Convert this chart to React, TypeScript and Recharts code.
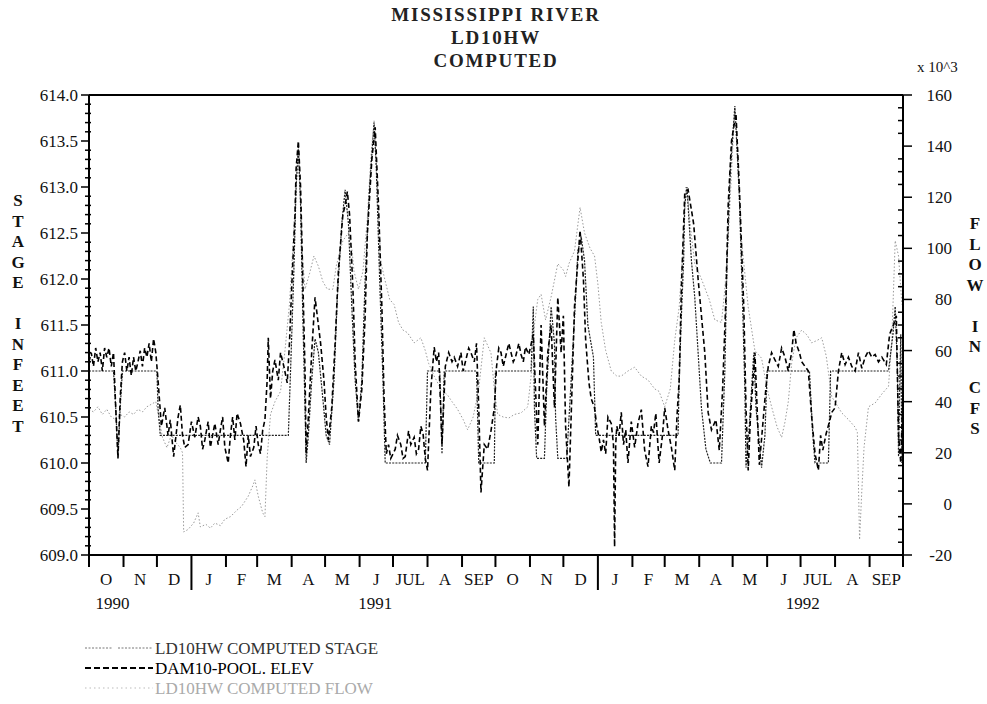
import React from "react";
import { LineChart, Line, XAxis, YAxis, ReferenceLine } from "recharts";

const SERIF = '"Liberation Serif", "Times New Roman", serif';

// ─── Data (x = days since 1 Oct 1990) ───────────────────────────────

const monthStarts = [0, 31, 61, 92, 123, 151, 182, 212, 243, 273, 304, 335, 365, 396, 426, 457, 488, 517, 548, 578, 609, 639, 670, 701, 731];
const monthLabels = ["O", "N", "D", "J", "F", "M", "A", "M", "J", "JUL", "A", "SEP", "O", "N", "D", "J", "F", "M", "A", "M", "J", "JUL", "A", "SEP"];
const yearStarts = [92, 457];
const yearLabels = ["1990", "1991", "1992"];
const yearLabelDays = [21, 257, 641];

// LD10HW COMPUTED STAGE (ft)
const stageDays = [0, 22, 24, 26, 28, 30, 61, 62, 64, 179, 181, 184, 186, 188, 190, 192, 194, 195, 197, 200, 203, 206, 210, 213, 216, 220, 223, 227, 230, 233, 236, 239, 242, 245, 248, 252, 256, 258, 261, 264, 266, 302, 304, 315, 317, 319, 348, 350, 364, 365, 397, 399, 400, 402, 409, 411, 415, 418, 419, 421, 429, 433, 437, 439, 442, 445, 448, 453, 455, 529, 530, 532, 534, 535, 537, 539, 541, 544, 547, 550, 554, 558, 568, 571, 573, 576, 580, 582, 584, 587, 589, 590, 593, 597, 599, 604, 607, 609, 647, 650, 652, 664, 666, 718, 722, 724, 726, 727, 728, 729, 730, 731];
const stageValues = [611.0, 611.0, 610.6, 610.07, 610.6, 611.0, 611.0, 610.6, 610.3, 610.3, 611.0, 612.1, 613.0, 613.45, 612.8, 611.6, 610.6, 610.0, 610.3, 610.9, 611.35, 611.2, 610.7, 610.3, 610.2, 610.9, 611.8, 612.6, 612.97, 612.6, 611.7, 610.9, 610.45, 610.9, 612.0, 613.0, 613.7, 613.2, 612.0, 610.9, 610.0, 610.0, 611.0, 611.0, 610.1, 611.0, 611.0, 610.0, 610.0, 611.0, 611.0, 611.7, 610.6, 610.05, 610.05, 610.8, 611.7, 611.3, 610.5, 610.05, 610.05, 610.9, 611.8, 612.3, 612.46, 612.2, 611.5, 611.15, 610.3, 610.3, 610.9, 611.6, 612.2, 612.8, 613.0, 612.6, 612.2, 611.8, 611.2, 610.6, 610.15, 610.0, 610.0, 611.0, 612.2, 613.2, 613.88, 613.4, 612.9, 611.7, 610.8, 609.95, 610.4, 611.2, 610.6, 609.95, 610.3, 611.0, 611.0, 610.3, 610.0, 610.0, 611.0, 611.0, 611.4, 611.7, 611.0, 610.07, 610.8, 611.4, 610.0, 610.6];

// DAM10-POOL ELEV (ft)
const poolDays = [0, 2, 4, 6, 8, 10, 12, 14, 16, 18, 20, 22, 24, 26, 28, 30, 32, 34, 36, 38, 40, 42, 44, 46, 48, 50, 52, 54, 56, 58, 60, 62, 65, 68, 71, 73, 76, 80, 82, 84, 86, 89, 92, 95, 98, 100, 102, 104, 107, 109, 111, 113, 116, 118, 120, 122, 125, 127, 129, 131, 133, 136, 139, 141, 143, 145, 148, 150, 152, 154, 156, 158, 160, 161, 163, 165, 167, 170, 172, 175, 178, 180, 182, 185, 186, 188, 190, 192, 194, 195, 197, 200, 202, 203, 205, 208, 211, 213, 215, 218, 221, 224, 228, 230, 232, 234, 237, 239, 242, 245, 248, 250, 254, 257, 260, 263, 265, 267, 269, 271, 273, 275, 277, 280, 282, 284, 287, 289, 292, 294, 296, 298, 300, 302, 304, 307, 310, 312, 314, 317, 320, 323, 326, 328, 331, 334, 336, 338, 341, 343, 346, 348, 350, 352, 355, 358, 361, 364, 366, 368, 370, 372, 374, 377, 379, 381, 383, 386, 388, 390, 392, 395, 399, 401, 403, 406, 409, 412, 415, 418, 421, 424, 426, 428, 431, 434, 436, 439, 441, 444, 446, 449, 451, 454, 456, 458, 460, 462, 464, 466, 469, 471, 472, 473, 474, 476, 478, 480, 482, 484, 487, 490, 493, 496, 499, 502, 505, 507, 509, 512, 515, 517, 520, 523, 526, 528, 530, 532, 535, 538, 541, 543, 545, 547, 550, 553, 556, 559, 563, 566, 569, 572, 574, 577, 581, 584, 588, 590, 592, 594, 598, 599, 602, 606, 608, 610, 613, 616, 619, 622, 625, 628, 631, 633, 635, 638, 640, 643, 646, 649, 652, 655, 657, 659, 662, 665, 667, 670, 673, 676, 679, 682, 685, 688, 691, 694, 697, 700, 703, 706, 709, 712, 716, 719, 723, 725, 727, 729, 731];
const poolValues = [611.1, 611.2, 611.05, 611.25, 611.1, 611.2, 611.0, 611.25, 611.15, 611.25, 611.05, 611.2, 610.6, 610.05, 610.7, 611.1, 611.2, 611.0, 611.15, 610.95, 611.15, 611.0, 611.1, 611.22, 611.05, 611.25, 611.15, 611.3, 611.1, 611.35, 611.2, 610.9, 610.4, 610.6, 610.3, 610.47, 610.07, 610.5, 610.63, 610.3, 610.17, 610.2, 610.45, 610.28, 610.5, 610.4, 610.15, 610.25, 610.45, 610.17, 610.3, 610.43, 610.2, 610.36, 610.5, 610.17, 610.0, 610.3, 610.5, 610.25, 610.54, 610.43, 610.24, 609.96, 610.3, 610.07, 610.17, 610.4, 610.2, 610.1, 610.36, 610.47, 610.9, 611.36, 610.7, 611.0, 611.12, 610.9, 611.2, 611.05, 610.87, 611.3, 611.9, 612.7, 613.2, 613.5, 613.0, 612.0, 611.0, 610.1, 610.5, 611.2, 611.6, 611.8, 611.6, 611.3, 610.9, 610.5, 610.25, 610.6, 611.3, 612.1, 612.7, 612.8, 612.95, 612.7, 611.9, 611.1, 610.45, 610.8, 611.6, 612.5, 613.3, 613.65, 612.8, 611.7, 610.7, 610.1, 610.2, 610.05, 610.1, 610.15, 610.3, 610.2, 610.05, 610.07, 610.35, 610.2, 610.28, 610.1, 610.15, 610.4, 610.32, 610.05, 609.92, 610.8, 611.26, 611.1, 611.2, 610.2, 611.05, 611.2, 611.1, 611.15, 611.05, 611.2, 611.0, 611.1, 611.25, 611.2, 611.1, 611.3, 610.6, 609.68, 610.2, 610.15, 610.35, 610.6, 611.05, 611.25, 611.2, 611.05, 611.15, 611.3, 611.2, 611.1, 611.15, 611.3, 611.18, 611.1, 611.26, 611.18, 611.4, 610.8, 610.2, 611.5, 610.4, 611.2, 611.5, 610.6, 611.8, 611.2, 611.6, 610.4, 609.74, 610.9, 611.7, 612.2, 612.53, 612.0, 611.34, 610.87, 610.7, 610.6, 610.4, 610.28, 610.12, 610.25, 610.1, 610.5, 610.43, 610.2, 609.09, 610.2, 610.4, 610.3, 610.55, 610.2, 610.36, 610.0, 610.45, 610.17, 610.43, 610.58, 610.14, 609.96, 610.4, 610.33, 610.54, 610.0, 610.3, 610.6, 610.36, 610.17, 609.92, 610.5, 610.9, 611.9, 612.93, 612.97, 612.75, 612.6, 612.3, 612.0, 611.6, 611.2, 610.55, 610.36, 610.47, 610.14, 610.8, 611.8, 612.8, 613.5, 613.8, 613.0, 611.7, 610.6, 609.92, 610.5, 611.2, 610.9, 609.98, 610.55, 610.83, 611.05, 611.2, 611.12, 611.05, 611.25, 611.15, 611.0, 611.2, 611.45, 611.3, 611.2, 611.1, 611.05, 611.0, 610.5, 610.1, 609.92, 610.3, 610.14, 610.32, 610.45, 610.55, 610.6, 611.0, 611.2, 611.07, 611.15, 611.05, 611.0, 611.2, 611.03, 611.15, 611.22, 611.15, 611.18, 611.1, 611.15, 611.07, 611.4, 611.52, 611.6, 610.3, 610.0, 610.8];

// LD10HW COMPUTED FLOW (cfs x 10^3)
const flowDays = [0, 4, 8, 12, 16, 20, 24, 28, 32, 36, 40, 44, 48, 52, 56, 60, 63, 66, 70, 74, 78, 82, 84, 85, 89, 94, 98, 100, 105, 109, 113, 118, 122, 127, 133, 137, 143, 147, 149, 152, 156, 158, 160, 163, 167, 172, 176, 180, 183, 186, 188, 190, 192, 194, 198, 202, 206, 210, 214, 219, 222, 228, 233, 236, 238, 242, 246, 250, 253, 256, 259, 262, 265, 270, 274, 278, 282, 286, 292, 298, 302, 305, 310, 316, 322, 326, 331, 336, 340, 345, 350, 355, 358, 361, 364, 367, 372, 377, 382, 388, 394, 397, 400, 403, 406, 410, 415, 421, 426, 428, 431, 436, 441, 445, 450, 454, 457, 460, 464, 469, 474, 478, 484, 490, 496, 502, 508, 512, 517, 522, 526, 530, 533, 534, 536, 538, 541, 544, 550, 557, 562, 568, 571, 574, 577, 580, 583, 586, 592, 598, 604, 609, 613, 618, 622, 625, 628, 631, 635, 640, 645, 649, 654, 658, 662, 667, 676, 682, 688, 690, 692, 694, 696, 700, 706, 712, 718, 721, 724, 727, 730];
const flowValues = [37, 36, 38, 35, 37, 34, 33, 35, 34, 36, 35, 37, 36, 38, 39, 40, 33, 26, 22, 27, 24, 22, 20, -11, -10, -7.5, -3.5, -9, -8, -9.5, -7.5, -8.5, -6, -5, -2.4, -1, 3, 7, 9.4, 3, -3.5, -5, 18, 35, 40, 44, 60, 78, 100, 125, 135, 118, 95, 84, 90, 97, 93, 87, 84, 84, 93, 103, 106, 100, 91, 84, 91, 112, 135, 150, 125, 95, 89, 80, 78, 71, 68, 67, 63, 65, 60, 55, 50, 45, 42.6, 40, 37, 33, 29, 34, 45, 65, 62, 59, 45, 35, 34, 33.6, 35, 35.6, 38, 50, 70, 80, 82, 72, 81, 94, 91.5, 89, 94, 99, 116, 106, 100, 97, 86, 71, 60, 52, 50, 50, 52, 53.5, 50, 48.5, 45, 44, 38, 45, 64, 77, 97, 107, 124, 118, 105, 94, 88, 80, 72, 71, 84, 103, 130, 155, 135, 103, 77, 60, 57, 45, 38, 30, 26, 32, 40, 55, 65, 68, 66, 63, 64, 65, 58, 42, 35.6, 33, 30, 28, -14, 5, 22, 38, 39.5, 43, 46, 65, 103, 97, 78];

// ─── Table for the chart ────────────────────────────────────────────

type Row = { d: number; stage?: number; pool?: number; flow?: number };

function buildRows(): Row[] {
  const map = new Map<number, Row>();
  const put = (days: number[], vals: number[], key: "stage" | "pool" | "flow") => {
    days.forEach((d, i) => {
      const r = map.get(d) ?? { d };
      r[key] = vals[i];
      map.set(d, r);
    });
  };
  put(stageDays, stageValues, "stage");
  put(poolDays, poolValues, "pool");
  put(flowDays, flowValues, "flow");
  return Array.from(map.values()).sort((a, b) => a.d - b.d);
}

const rows = buildRows();

const monthMids = monthLabels.map((_, i) => (monthStarts[i] + monthStarts[i + 1]) / 2);
const xTicks = [...monthStarts, ...monthMids, ...yearLabelDays];

const leftTicks: number[] = [];
for (let i = 0; i <= 50; i++) leftTicks.push(Math.round((609 + i * 0.1) * 10) / 10);
const rightTicks: number[] = [];
for (let v = -20; v <= 160; v += 5) rightTicks.push(v);

// ─── Ticks ──────────────────────────────────────────────────────────

const tickText = { fontFamily: SERIF, fontSize: 17, fill: "#111" };

function XTick({ x, y, payload }: any) {
  const v = payload.value as number;
  const si = monthStarts.indexOf(v);
  if (si >= 0) {
    const len = yearStarts.includes(v) ? 35 : 12;
    return <line x1={x} x2={x} y1={y} y2={y + len} stroke="#000" strokeWidth={2} />;
  }
  const mi = monthMids.indexOf(v);
  if (mi >= 0) {
    return (
      <text x={x} y={y + 30} textAnchor="middle" {...tickText}>
        {monthLabels[mi]}
      </text>
    );
  }
  const yi = yearLabelDays.indexOf(v);
  if (yi >= 0) {
    return (
      <text x={x} y={y + 54} textAnchor="middle" {...tickText}>
        {yearLabels[yi]}
      </text>
    );
  }
  return null;
}

function LeftTick({ x, y, payload }: any) {
  const v = payload.value as number;
  const major = Math.abs(v * 2 - Math.round(v * 2)) < 1e-6;
  if (!major) return <line x1={x - 4} x2={x + 2} y1={y} y2={y} stroke="#000" strokeWidth={1.5} />;
  return (
    <g>
      <line x1={x - 8} x2={x} y1={y} y2={y} stroke="#000" strokeWidth={1.5} />
      <text x={x - 11} y={y + 6} textAnchor="end" {...tickText}>
        {v.toFixed(1)}
      </text>
    </g>
  );
}

function RightTick({ x, y, payload }: any) {
  const v = payload.value as number;
  const major = v % 20 === 0;
  if (!major) return <line x1={x - 5} x2={x} y1={y} y2={y} stroke="#000" strokeWidth={1.5} />;
  return (
    <g>
      <line x1={x} x2={x + 9} y1={y} y2={y} stroke="#000" strokeWidth={1.5} />
      <text x={x + 49} y={y + 6} textAnchor="end" {...tickText}>
        {v}
      </text>
    </g>
  );
}

// ─── Chart ──────────────────────────────────────────────────────────

const leftTitle = "STAGE INFEET".split("");
const rightTitle = "FLOW IN CFS".split("");

export default function App() {
  return (
    <div style={{ position: "absolute", left: 0, top: 0, width: 987, height: 704, background: "#fff" }}>
      <LineChart width={987} height={704} data={rows} margin={{ top: 95, right: 0, bottom: 89, left: 0 }}>
        <XAxis
          dataKey="d"
          type="number"
          domain={[0, 731]}
          ticks={xTicks}
          interval={0}
          height={60}
          tickSize={0}
          tickMargin={0}
          tickLine={false}
          tick={<XTick />}
          axisLine={{ stroke: "#000", strokeWidth: 2 }}
        />
        <YAxis
          yAxisId="left"
          orientation="left"
          width={89}
          domain={[609, 614]}
          ticks={leftTicks}
          interval={0}
          tickSize={0}
          tickMargin={0}
          tickLine={false}
          tick={<LeftTick />}
          axisLine={{ stroke: "#000", strokeWidth: 2 }}
          allowDataOverflow
        />
        <YAxis
          yAxisId="right"
          orientation="right"
          width={84}
          domain={[-20, 160]}
          ticks={rightTicks}
          interval={0}
          tickSize={0}
          tickMargin={0}
          tickLine={false}
          tick={<RightTick />}
          axisLine={{ stroke: "#000", strokeWidth: 2 }}
          allowDataOverflow
        />
        <ReferenceLine yAxisId="left" y={614} stroke="#000" strokeWidth={2} />

        <Line
          yAxisId="right"
          dataKey="flow"
          type="linear"
          stroke="#9a9a9a"
          strokeWidth={1}
          strokeDasharray="1.5 2"
          dot={false}
          connectNulls
          isAnimationActive={false}
        />
        <Line
          yAxisId="left"
          dataKey="stage"
          type="linear"
          stroke="#222"
          strokeWidth={1.2}
          strokeDasharray="2 1.2"
          dot={false}
          connectNulls
          isAnimationActive={false}
        />
        <Line
          yAxisId="left"
          dataKey="pool"
          type="linear"
          stroke="#000"
          strokeWidth={1.6}
          strokeDasharray="5 3"
          dot={false}
          connectNulls
          isAnimationActive={false}
        />
      </LineChart>

      <svg width={987} height={704} style={{ position: "absolute", left: 0, top: 0, pointerEvents: "none" }}>
        <g fontFamily={SERIF} fontSize={19} fontWeight="bold" fill="#222" textAnchor="middle" letterSpacing={1.8}>
          <text x={496} y={21}>MISSISSIPPI RIVER</text>
          <text x={496} y={44}>LD10HW</text>
          <text x={496} y={67}>COMPUTED</text>
        </g>
        <text x={917} y={72} fontFamily={SERIF} fontSize={15} fill="#111">x 10^3</text>

        <g fontFamily={SERIF} fontSize={17} fontWeight="bold" fill="#111" textAnchor="middle">
          {leftTitle.map((c, i) => (
            <text key={"l" + i} x={18} y={206 + i * 20.5}>{c}</text>
          ))}
          {rightTitle.map((c, i) => (
            <text key={"r" + i} x={975} y={229 + i * 20.5}>{c}</text>
          ))}
        </g>

        {/* legend */}
        <line x1={85} x2={113} y1={648} y2={648} stroke="#777" strokeWidth={1} strokeDasharray="2 1.5" />
        <line x1={118} x2={153} y1={648} y2={648} stroke="#777" strokeWidth={1} strokeDasharray="2 1.5" />
        <line x1={85} x2={153} y1={668} y2={668} stroke="#000" strokeWidth={2} strokeDasharray="6 3" />
        <line x1={85} x2={153} y1={688} y2={688} stroke="#bbb" strokeWidth={1} strokeDasharray="1.5 3" />
        <g fontFamily={SERIF} fontSize={17}>
          <text x={155} y={654} fill="#333">LD10HW COMPUTED STAGE</text>
          <text x={155} y={674} fill="#000">DAM10-POOL. ELEV</text>
          <text x={155} y={694} fill="#aaa">LD10HW COMPUTED FLOW</text>
        </g>
      </svg>
    </div>
  );
}
